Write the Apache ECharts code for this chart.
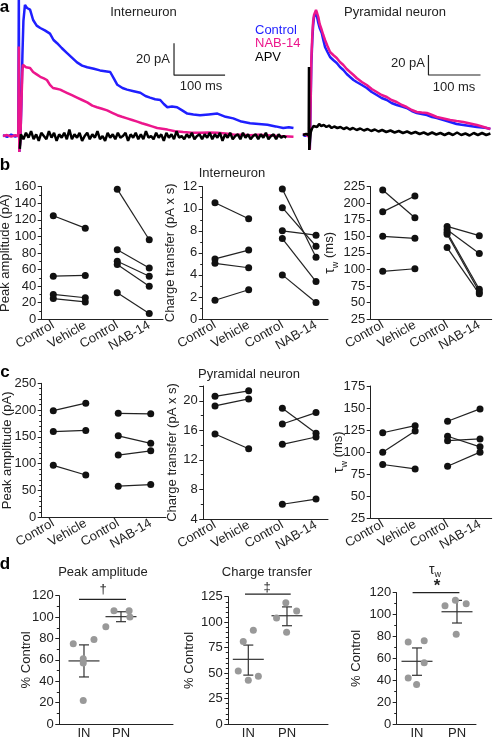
<!DOCTYPE html>
<html><head><meta charset="utf-8">
<script src="https://cdn.jsdelivr.net/npm/echarts@6/dist/echarts.min.js"></script>
<style>html,body{margin:0;padding:0;background:#fff}#c{width:493px;height:738px}</style>
</head><body><div id="c"></div>
<script>
// ---------------- DATA ----------------
const traceNames = ['Control', 'NAB-14', 'APV'];
// Panel a – interneuron traces [time ms, current pA]
const inControl = [[0,0.5],[8,-0.5],[16,0.8],[24,-0.3],[30,0.3],[31,90],[32,-10],[34,-2],[36,20],[38,50],[40,72],[43,82],[47,80],[53,79],[59,72.5],[66,69],[73,67.5],[82,66],[92,64],[99,60],[106,58],[115,55],[125,52],[135,49],[145,46],[155,44],[165,43],[178,42],[190,41],[200,40.5],[210,40],[217,36],[224,32],[234,30],[243,29],[256,28],[269,27],[279,25],[288,24],[298,23],[308,22.5],[315,20],[322,18],[331,18.5],[341,18],[351,16],[361,14],[373,13.5],[386,13],[403,13.5],[420,14],[436,12],[451,11],[467,9],[484,8],[501,7.5],[518,7],[534,6],[549,5],[560,5.5],[569,5]];
const inNab = [[0,0],[8,0.6],[16,-0.4],[24,0.5],[30,0],[31,56],[32,-10],[34,-3],[36,20],[38,40],[39,44.5],[45,43],[53,42.5],[59,40],[66,38.5],[73,37],[80,36],[86,35],[92,32],[98,30],[105,29.5],[112,29],[118,28],[125,27],[135,25.5],[145,24],[155,22.5],[165,21],[175,19],[184,18],[194,17],[204,16],[214,14.5],[224,13],[233,12],[243,11],[253,10],[263,9],[272,8],[282,7],[292,6],[302,5],[312,4.5],[322,4],[337,3],[353,2.5],[370,2],[386,2],[403,2.2],[420,2],[436,1.5],[451,1],[467,0.8],[484,0.5],[501,0.8],[518,0.5],[540,0],[569,-0.5]];
const inApv = [[33,-8],[35,1],[40,-2],[45,2],[50,-1],[55,3],[60,-2],[65,1],[70,-3],[75,2],[80,0],[85,-2],[90,3],[95,-1],[100,2],[105,-3],[110,1],[115,-1],[120,2],[125,-2],[130,4],[135,-2],[140,1],[145,-1],[150,2],[155,-3],[160,0],[165,2],[170,-2],[175,1],[180,-1],[185,3],[190,-2],[195,0],[200,-3],[205,2],[210,-1],[215,1],[220,-2],[225,2],[230,-1],[235,0],[240,2],[245,-3],[250,1],[255,-1],[260,2],[265,-2],[270,1],[275,-2],[280,3],[285,-1],[290,0],[295,-2],[300,2],[305,-1],[310,1],[315,-3],[320,2],[325,-1],[330,1],[335,-2],[340,3],[345,-1],[350,0],[355,-2],[360,1],[365,-1],[370,2],[375,-2],[380,0],[385,1],[390,-2],[395,1],[400,-1],[405,2],[410,-2],[415,1],[420,-1],[425,2],[430,-3],[435,1],[440,-1],[445,2],[450,-2],[455,0],[460,1],[465,-2],[470,2],[475,-1],[480,1],[485,-2],[490,0],[495,1],[500,-2],[505,1],[510,-1],[515,2],[520,-2],[525,0],[530,1],[535,-2],[540,1],[545,-1],[550,0],[555,-1]];
// Panel a – pyramidal neuron traces
const pyControl = [[0,0.5],[4,-1],[8,1],[11,0],[12,-2],[13,-15],[14.8,35],[16,70],[17.9,95],[19.5,110],[21.2,118],[25,122],[27,118],[29.4,112],[32,107],[36,102],[39,95],[42.3,88],[47,83],[52,78],[58,75],[64.8,72],[71,68],[77.5,65],[84,61],[90.4,58],[97,55],[103,53],[113,50],[122.5,47],[132,43],[141.7,40],[151,37],[161,35],[170,32],[180,30],[190,28.5],[199,27],[209,24],[218.7,22],[228,21],[238,20],[248,18],[257,17],[270,15],[282.7,13],[295,11],[308,10],[321,9],[334,8],[344,7.5],[353,7],[360,6]];
const pyNab = [[0,0],[4,0.8],[8,-0.5],[11,0.3],[12,-2],[13,-15],[14.8,38],[16,75],[17.9,100],[19.5,114],[21.2,120],[25,125],[27,122],[29.4,118],[32,111],[36,105],[39,100],[42.3,95],[47,89],[52,83],[58,80],[64.8,77],[71,73],[77.5,70],[84,66],[90.4,63],[97,60],[103,57],[113,53],[122.5,50],[132,46],[141.7,43],[151,40],[161,38],[170,35],[180,33],[190,30],[199,28],[209,25],[218.7,23],[228,22.5],[238,22],[248,20],[257,18],[270,16.5],[282.7,15],[295,14],[308,13],[321,11.5],[334,10],[344,8.5],[353,7],[360,6]];
const pyApv = [[0,0],[3,-1],[6,1],[9,-0.5],[11,0],[11.5,68],[12,-15],[13.5,-5],[15,3],[17,6],[20,9],[23,10],[27,8],[31,11],[35,9],[40,10],[45,8],[50,9.5],[55,7],[60,8.5],[66,7],[72,8],[78,6],[84,7.5],[90,5.5],[96,7],[103,5],[110,6.5],[117,4.5],[124,6],[131,4],[138,5.5],[145,3.5],[152,5],[160,3],[168,4.5],[176,2.5],[184,4],[192,2],[200,3.5],[208,1.5],[216,3],[224,1],[232,2.5],[240,0.5],[248,2.5],[256,0.5],[264,2],[272,0],[280,2],[288,0],[296,2.5],[304,0],[312,1.5],[320,-0.5],[328,2],[336,0],[344,2],[352,0],[360,1.5]];
// scale bars: [anchor time, anchor current], lengths [ms, pA]
const scaleAnchorIN = [335, 38];
const scaleAnchorPY = [241, 60];
const scaleLen = [100, 20];

// Panels b, c – paired values [before, after]
const pairCats = ['Control', 'Vehicle', 'Control', 'NAB-14'];
const b1CtrlVeh = [[125,110],[52,53],[30,26],[25,21]];
const b1CtrlNab = [[157,96],[84,62],[70,52],[66,40],[32,7]];
const b2CtrlVeh = [[10.55,9.1],[5.45,6.25],[5.05,4.65],[1.7,2.65]];
const b2CtrlNab = [[11.8,5.6],[10.1,6.6],[8.0,7.6],[7.3,3.4],[4.0,1.5]];
const b3CtrlVeh = [[220,178],[187,211],[150,147],[97,101]];
const b3CtrlNab = [[165,151],[160,124],[156,70],[153,66],[133,63]];
const c1CtrlVeh = [[199,213],[160,162],[97,79]];
const c1CtrlNab = [[194,193],[152,138],[116,124],[58,61]];
const c2CtrlVeh = [[20.6,21.35],[19.3,20.25],[15.5,13.5]];
const c2CtrlNab = [[19.0,15.6],[16.85,18.4],[14.1,15.1],[6.0,6.7]];
const c3CtrlVeh = [[122,130],[100,124],[86,81]];
const c3CtrlNab = [[135,149],[118,106],[113,115],[84,100]];

// Panel d – % control, [jitter position, value]
const groupCats = ['IN', 'PN'];
const dPeakPts = [[0.71,75],[1.27,79],[0.98,61],[0.98,57],[0.98,22],[1.81,106],[1.59,91],[2.22,106],[2.24,100]];
const dChargePts = [[0.74,52],[0.87,81],[1.13,92],[1.0,43],[1.26,47],[1.73,104],[1.97,119],[2.25,111],[1.99,90]];
const dTauPts = [[0.78,75],[1.18,76],[1.18,56],[0.78,42],[0.99,36],[1.70,108],[1.96,113],[2.23,110],[1.98,82]];
// [group, mean, low, high]
const dPeakStats = [[1,59,44,74],[2,100.4,95.7,105]];
const dChargeStats = [[1,63.5,48,77.5],[2,106.3,96.5,115]];
const dTauStats = [[1,57.3,44.5,69.5],[2,102.6,92.3,113]];
// significance bars [[x1,y],[x2,y]]
const dPeakSig = [[0.865,116.6],[2.135,116.6]];
const dChargeSig = [[0.915,127.6],[2.096,127.6]];
const dTauSig = [[0.89,120],[2.06,120]];

// ---------------- STYLE / LAYOUT ----------------
const FONT = 'Liberation Sans, Arial, Helvetica, sans-serif';
const TXT = '#222';
const BLUE = '#1f1fff', MAG = '#ec168c', BLK = '#000';

const grids = [], xAxes = [], yAxes = [], series = [];
function addGrid(l, r, t, b) {
  grids.push({left: l, top: t, width: r - l, height: b - t, containLabel: false, outerBoundsMode: 'none'});
  return grids.length - 1;
}
const axisBase = {
  axisLine: {show: true, lineStyle: {color: TXT, width: 1}},
  splitLine: {show: false},
  nameMoveOverlap: false
};
function addAxesPlot(gi, xmin, xmax, labels, rot, y) {
  xAxes.push(Object.assign({}, axisBase, {
    gridIndex: gi, type: 'value', min: xmin, max: xmax,
    axisTick: {show: false},
    axisLabel: {
      customValues: labels.map((_, i) => i + 1),
      formatter: v => labels[Math.round(v) - 1] || '',
      rotate: rot, margin: rot ? 5 : 3, fontSize: 13, fontFamily: FONT, color: TXT
    }
  }));
  yAxes.push(Object.assign({}, axisBase, {
    gridIndex: gi, type: 'value', min: y.min, max: y.max, interval: y.int,
    name: y.name, nameLocation: 'middle', nameGap: y.gap, nameRotate: 90,
    nameTextStyle: Object.assign({fontSize: 13, fontFamily: FONT, color: TXT}, y.rich ? {rich: y.rich} : {}),
    axisTick: {show: true, length: 4, lineStyle: {color: TXT}},
    minorTick: {show: !!y.minor, splitNumber: y.minor || 2, length: 2.5, lineStyle: {color: TXT}},
    axisLabel: {margin: 5.5, fontSize: 13, fontFamily: FONT, color: TXT, showMaxLabel: y.hideMax ? false : null}
  }));
}
const tauRich = {
  a: {fontSize: 14, fontFamily: FONT, color: TXT, lineHeight: 20, verticalAlign: 'middle'},
  b: {fontSize: 9, fontFamily: FONT, color: TXT, lineHeight: 9, verticalAlign: 'bottom'},
  c: {fontSize: 13, fontFamily: FONT, color: TXT, lineHeight: 20, verticalAlign: 'middle'}
};
const tauName = '{a|τ}{b|w}{c| (ms)}';

// trace grids
const giIN = addGrid(3, 295, 0, 152);
const giPY = addGrid(303, 493, 0, 152);
[[giIN, 0, 572, -10, 85], [giPY, 0, 365, -17, 135]].forEach(([gi, x0, x1, y0, y1]) => {
  xAxes.push({gridIndex: gi, type: 'value', min: x0, max: x1, show: false});
  yAxes.push({gridIndex: gi, type: 'value', min: y0, max: y1, show: false});
});
function traceSeries(gi, name, data, color) {
  series.push({type: 'line', name, xAxisIndex: gi, yAxisIndex: gi, data, showSymbol: false, symbol: 'none',
    lineStyle: {color, width: 2.5}, itemStyle: {color}, silent: true, clip: true});
}
traceSeries(giIN, traceNames[0], inControl, BLUE);
traceSeries(giIN, traceNames[1], inNab, MAG);
traceSeries(giIN, traceNames[2], inApv, BLK);
traceSeries(giPY, traceNames[0], pyControl, BLUE);
traceSeries(giPY, traceNames[1], pyNab, MAG);
traceSeries(giPY, traceNames[2], pyApv, BLK);
[[giIN, scaleAnchorIN], [giPY, scaleAnchorPY]].forEach(([gi, a]) => {
  series.push({type: 'line', xAxisIndex: gi, yAxisIndex: gi, symbol: 'none', silent: true, clip: false,
    data: [[a[0], a[1] + scaleLen[1]], [a[0], a[1]], [a[0] + scaleLen[0], a[1]]],
    lineStyle: {color: TXT, width: 1.2}});
});

// panels b, c
const bcPanels = [
  {l: 41.7, r: 163, t: 186.7, b: 319.3, xmin: 0.6375, xmax: 4.43, y: {min: 0, max: 160, int: 20, name: 'Peak amplitude (pA)', gap: 30, minor: 2}, cv: b1CtrlVeh, cn: b1CtrlNab},
  {l: 202.7, r: 328, t: 186.7, b: 319, xmin: 0.635, xmax: 4.356, y: {min: 0, max: 12, int: 2, name: 'Charge transfer (pA x s)', gap: 26, minor: 2}, cv: b2CtrlVeh, cn: b2CtrlNab},
  {l: 370.7, r: 491.7, t: 186.7, b: 319, xmin: 0.627, xmax: 4.385, y: {min: 25, max: 225, int: 25, name: tauName, rich: tauRich, gap: 31}, cv: b3CtrlVeh, cn: b3CtrlNab},
  {l: 41.7, r: 166, t: 383.3, b: 517.3, xmin: 0.643, xmax: 4.47, y: {min: 0, max: 250, int: 50, name: 'Peak amplitude (pA)', gap: 28, minor: 5}, cv: c1CtrlVeh, cn: c1CtrlNab},
  {l: 203.3, r: 328, t: 386, b: 519, xmin: 0.652, xmax: 4.356, y: {min: 4, max: 22, int: 4, name: 'Charge transfer (pA x s)', gap: 24, minor: 2, hideMax: true}, cv: c2CtrlVeh, cn: c2CtrlNab},
  {l: 370.7, r: 491.7, t: 386, b: 518.3, xmin: 0.63, xmax: 4.36, y: {min: 25, max: 175, int: 25, name: tauName, rich: tauRich, gap: 22}, cv: c3CtrlVeh, cn: c3CtrlNab}
];
bcPanels.forEach(p => {
  const gi = addGrid(p.l, p.r, p.t, p.b);
  addAxesPlot(gi, p.xmin, p.xmax, pairCats, 30, p.y);
  const mk = (pair, x0) => series.push({type: 'line', xAxisIndex: gi, yAxisIndex: gi, silent: true,
    data: [[x0, pair[0]], [x0 + 1, pair[1]]], symbol: 'circle', symbolSize: 7, showSymbol: true,
    itemStyle: {color: '#111', borderWidth: 0}, lineStyle: {color: '#222', width: 1.2}});
  p.cv.forEach(pr => mk(pr, 1));
  p.cn.forEach(pr => mk(pr, 3));
});

// panel d
const dPanels = [
  {l: 59.3, r: 173, t: 595.7, b: 724, xmin: 0.333, xmax: 3.405, y: {min: 0, max: 120, int: 20, name: '% Control', gap: 26, minor: 2}, pts: dPeakPts, st: dPeakStats, sig: dPeakSig},
  {l: 228.3, r: 328, t: 596.7, b: 724, xmin: 0.483, xmax: 3.06, y: {min: 0, max: 125, int: 25, name: '% Control', gap: 32, minor: 5}, pts: dChargePts, st: dChargeStats, sig: dChargeSig},
  {l: 396.7, r: 476, t: 592.7, b: 724, xmin: 0.4925, xmax: 2.475, y: {min: 0, max: 120, int: 20, name: '% Control', gap: 34, minor: 2}, pts: dTauPts, st: dTauStats, sig: dTauSig}
];
dPanels.forEach(p => {
  const gi = addGrid(p.l, p.r, p.t, p.b);
  addAxesPlot(gi, p.xmin, p.xmax, groupCats, 0, p.y);
  series.push({type: 'scatter', xAxisIndex: gi, yAxisIndex: gi, data: p.pts, symbolSize: 7, silent: true,
    itemStyle: {color: '#999', opacity: 1}});
  series.push({type: 'custom', xAxisIndex: gi, yAxisIndex: gi, data: p.st, silent: true, clip: false,
    renderItem: (params, api) => {
      const x = api.value(0);
      const pm = api.coord([x, api.value(1)]);
      const pl = api.coord([x, api.value(2)]);
      const ph = api.coord([x, api.value(3)]);
      const st = {stroke: '#333', lineWidth: 1.2};
      const ln = (x1, y1, x2, y2) => ({type: 'line', shape: {x1, y1, x2, y2}, style: st});
      return {type: 'group', children: [
        ln(pm[0] - 15.5, pm[1], pm[0] + 15.5, pm[1]),
        ln(pl[0], pl[1], ph[0], ph[1]),
        ln(pl[0] - 5, pl[1], pl[0] + 5, pl[1]),
        ln(ph[0] - 5, ph[1], ph[0] + 5, ph[1])
      ]};
    }});
  series.push({type: 'line', xAxisIndex: gi, yAxisIndex: gi, data: p.sig, symbol: 'none', silent: true, clip: false,
    lineStyle: {color: '#222', width: 1.2}});
});

// texts
const T = (text, x, y, o) => Object.assign({type: 'text', x, y, silent: true,
  style: Object.assign({text, fontSize: 13, fontFamily: FONT, fill: TXT, align: 'center', verticalAlign: 'middle'}, o || {})});
const bold = {fontSize: 17, fontWeight: 'bold', fill: '#000'};
const graphics = [
  T('a', 4.5, 7, bold), T('b', 5, 165, bold), T('c', 5, 372, bold), T('d', 5, 564, bold),
  T('Interneuron', 143.5, 12.5), T('Pyramidal neuron', 395, 12.5),
  T('Interneuron', 232, 173), T('Pyramidal neuron', 249, 374),
  T('Peak amplitude', 103, 572), T('Charge transfer', 267, 572),
  T('{a|τ}{b|w}', 435, 570, {rich: {a: {fontSize: 14, fontFamily: FONT, fill: TXT, lineHeight: 18}, b: {fontSize: 9, fontFamily: FONT, fill: TXT, lineHeight: 9, verticalAlign: 'bottom'}}}),
  T('†', 103, 589), T('‡', 267, 587), T('*', 437, 586, {fontSize: 17, fontWeight: 'bold'}),
  T('20 pA', 170, 59, {align: 'right'}), T('100 ms', 201, 86),
  T('20 pA', 425, 63.5, {align: 'right'}), T('100 ms', 454, 87)
];

const chart = echarts.init(document.getElementById('c'), null, {renderer: 'canvas'});
chart.setOption({
  animation: false,
  backgroundColor: '#fff',
  textStyle: {fontFamily: FONT},
  legend: {orient: 'vertical', left: 245, top: 18, icon: 'none', itemWidth: 0, itemHeight: 14, itemGap: 0,
    selectedMode: false, textStyle: {fontSize: 13, fontFamily: FONT},
    data: [{name: 'Control', textStyle: {color: BLUE}}, {name: 'NAB-14', textStyle: {color: MAG}}, {name: 'APV', textStyle: {color: BLK}}]},
  grid: grids, xAxis: xAxes, yAxis: yAxes, series, graphic: graphics
});
</script></body></html>
